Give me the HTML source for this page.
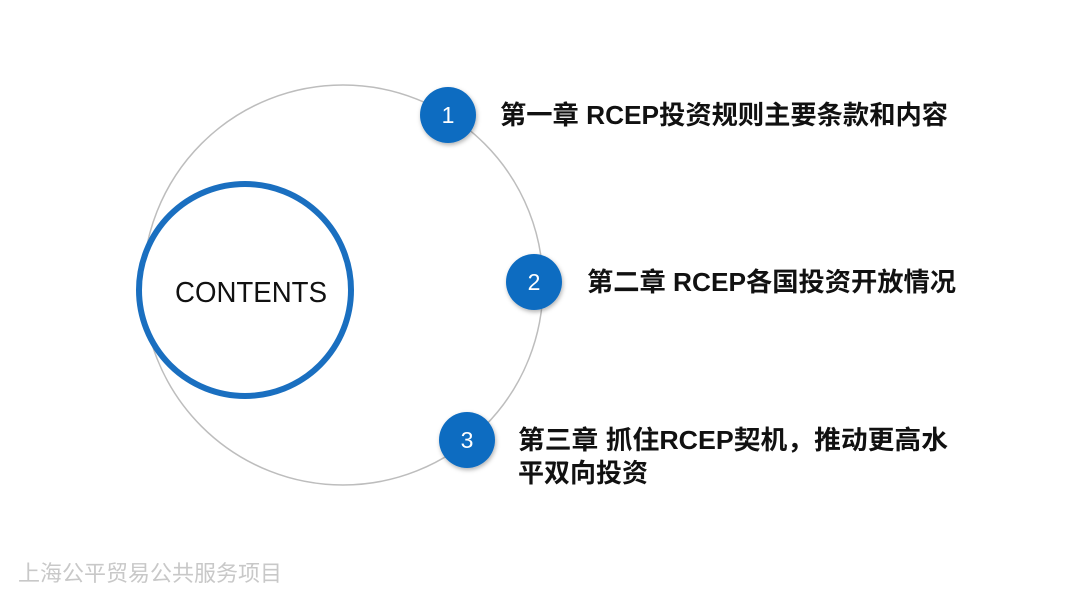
<!DOCTYPE html>
<html><head><meta charset="utf-8"><style>
html,body{margin:0;padding:0;background:#fff;width:1067px;height:600px;overflow:hidden}
svg{display:block}
</style></head><body>
<svg width="1067" height="600" viewBox="0 0 1067 600">
<defs><filter id="sh" x="-30%" y="-30%" width="160%" height="160%"><feDropShadow dx="1" dy="2" stdDeviation="2" flood-color="#000" flood-opacity="0.3"/></filter></defs>
<circle cx="343" cy="285" r="200" fill="none" stroke="#bdbdbd" stroke-width="1.5"/>
<circle cx="245" cy="290" r="106" fill="#fff" stroke="#1a6fc0" stroke-width="6"/>
<text x="175" y="302" font-family="Liberation Sans, sans-serif" font-size="29" textLength="152" lengthAdjust="spacingAndGlyphs" fill="#111">CONTENTS</text>
<g filter="url(#sh)" fill="#0f6cc1">
<circle cx="448" cy="115" r="28"/>
<circle cx="534" cy="282" r="28"/>
<circle cx="467" cy="440" r="28"/>
</g>
<g font-family="Liberation Sans, sans-serif" font-size="23" fill="#fff" text-anchor="middle">
<text x="448" y="123">1</text><text x="534" y="290">2</text><text x="467" y="448">3</text>
</g>
<g font-family="Liberation Sans, 'Noto Sans CJK SC', sans-serif" font-size="26" font-weight="bold" fill="#111">
<text x="500" y="124" textLength="448" lengthAdjust="spacingAndGlyphs">第一章 RCEP投资规则主要条款和内容</text>
<text x="587" y="291" textLength="369" lengthAdjust="spacingAndGlyphs">第二章 RCEP各国投资开放情况</text>
<text x="518" y="449" textLength="430" lengthAdjust="spacingAndGlyphs">第三章  抓住RCEP契机，推动更高水</text>
<text x="518" y="482">平双向投资</text>
</g>
<text x="18" y="581" font-family="Liberation Sans, 'Noto Sans CJK SC', sans-serif" font-size="22" fill="#c8c8c8">上海公平贸易公共服务项目</text>
</svg>
</body></html>
